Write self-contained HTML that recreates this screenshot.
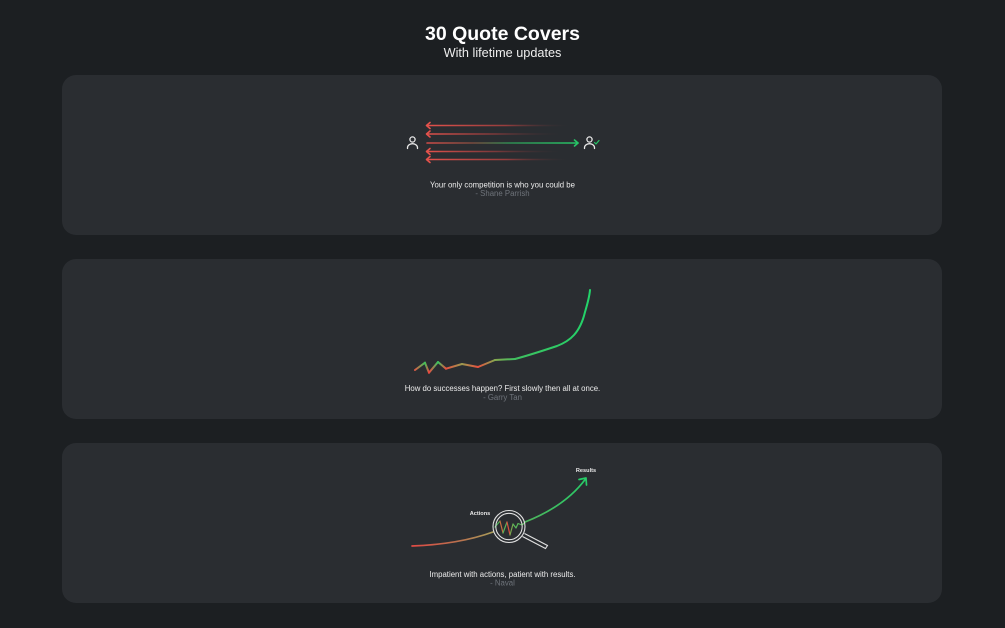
<!DOCTYPE html>
<html>
<head>
<meta charset="utf-8">
<style>
  html,body{margin:0;padding:0;background:#1c1f22;}
  body{width:1005px;height:628px;overflow:hidden;}
  svg{display:block;}
  text{font-family:"Liberation Sans", Arial, sans-serif;}
</style>
</head>
<body>
<svg width="1005" height="628" viewBox="0 0 1005 628" xmlns="http://www.w3.org/2000/svg">
  <defs>
    <linearGradient id="fadeRed" gradientUnits="userSpaceOnUse" x1="426" y1="0" x2="572" y2="0">
      <stop offset="0" stop-color="#e5524c"/>
      <stop offset="0.55" stop-color="#a8403f" stop-opacity="0.85"/>
      <stop offset="1" stop-color="#2a2d31" stop-opacity="0"/>
    </linearGradient>
    <linearGradient id="fadeRed2" gradientUnits="userSpaceOnUse" x1="426" y1="0" x2="565" y2="0">
      <stop offset="0" stop-color="#e5524c"/>
      <stop offset="0.5" stop-color="#963d3d" stop-opacity="0.75"/>
      <stop offset="1" stop-color="#2a2d31" stop-opacity="0"/>
    </linearGradient>
    <linearGradient id="redGreen" gradientUnits="userSpaceOnUse" x1="427" y1="0" x2="578" y2="0">
      <stop offset="0" stop-color="#d24c48"/>
      <stop offset="0.3" stop-color="#7a4a3e"/>
      <stop offset="0.55" stop-color="#2f8c52"/>
      <stop offset="1" stop-color="#27c567"/>
    </linearGradient>
    <linearGradient id="curveL" gradientUnits="userSpaceOnUse" x1="412" y1="0" x2="495" y2="0">
      <stop offset="0" stop-color="#e04b45"/>
      <stop offset="0.6" stop-color="#b8744f"/>
      <stop offset="1" stop-color="#a8a05a"/>
    </linearGradient>
    <linearGradient id="curveR" gradientUnits="userSpaceOnUse" x1="525" y1="0" x2="588" y2="0">
      <stop offset="0" stop-color="#4fb45c"/>
      <stop offset="1" stop-color="#27cc68"/>
    </linearGradient>
    <linearGradient id="s0" gradientUnits="userSpaceOnUse" x1="415" y1="0" x2="425" y2="0"><stop offset="0" stop-color="#e05a45"/><stop offset="1" stop-color="#3ec45a"/></linearGradient>
    <linearGradient id="s1" gradientUnits="userSpaceOnUse" x1="425" y1="0" x2="429" y2="0"><stop offset="0" stop-color="#3ec45a"/><stop offset="1" stop-color="#ee4540"/></linearGradient>
    <linearGradient id="s2" gradientUnits="userSpaceOnUse" x1="429" y1="0" x2="438" y2="0"><stop offset="0" stop-color="#ee4540"/><stop offset="1" stop-color="#38c860"/></linearGradient>
    <linearGradient id="s3" gradientUnits="userSpaceOnUse" x1="438" y1="0" x2="446" y2="0"><stop offset="0" stop-color="#38c860"/><stop offset="1" stop-color="#e8503f"/></linearGradient>
    <linearGradient id="s4" gradientUnits="userSpaceOnUse" x1="446" y1="0" x2="462" y2="0"><stop offset="0" stop-color="#e8503f"/><stop offset="1" stop-color="#9a9a4f"/></linearGradient>
    <linearGradient id="s5" gradientUnits="userSpaceOnUse" x1="462" y1="0" x2="478" y2="0"><stop offset="0" stop-color="#9a9a4f"/><stop offset="1" stop-color="#e8503f"/></linearGradient>
    <linearGradient id="s6" gradientUnits="userSpaceOnUse" x1="478" y1="0" x2="495" y2="0"><stop offset="0" stop-color="#e8503f"/><stop offset="1" stop-color="#86a84f"/></linearGradient>
    <linearGradient id="s7" gradientUnits="userSpaceOnUse" x1="495" y1="0" x2="515" y2="0"><stop offset="0" stop-color="#86a84f"/><stop offset="1" stop-color="#3fc060"/></linearGradient>
    <linearGradient id="s8" gradientUnits="userSpaceOnUse" x1="515" y1="0" x2="590" y2="0"><stop offset="0" stop-color="#3fc060"/><stop offset="1" stop-color="#22d46a"/></linearGradient>
  </defs>

  <rect x="0" y="0" width="1005" height="628" fill="#1c1f22"/>

  <text x="502.5" y="40" text-anchor="middle" font-size="19.5" font-weight="bold" fill="#ffffff">30 Quote Covers</text>
  <text x="502.5" y="57" text-anchor="middle" font-size="12.7" fill="#eeeeee">With lifetime updates</text>

  <rect x="62" y="75" width="880" height="160" rx="14" fill="#2a2d31"/>
  <rect x="62" y="259" width="880" height="160" rx="14" fill="#2a2d31"/>
  <rect x="62" y="443" width="880" height="160" rx="14" fill="#2a2d31"/>

  <!-- Card 1 -->
  <g fill="none" stroke="#e8e8e8" stroke-width="1.3" stroke-linecap="round">
    <circle cx="412.5" cy="139.5" r="2.6"/>
    <path d="M407.5,148.5 v-0.8 a5,4 0 0 1 10,0 v0.8"/>
  </g>
  <g fill="none" stroke-width="1.6" stroke-linecap="round" stroke-linejoin="round">
    <path d="M427,125.5 H572" stroke="url(#fadeRed)"/>
    <path d="M430,122.5 L426.5,125.5 L430,128.5" stroke="#e5524c"/>
    <path d="M427,134 H565" stroke="url(#fadeRed2)"/>
    <path d="M430,131 L426.5,134 L430,137" stroke="#e5524c"/>
    <path d="M427,151.5 H565" stroke="url(#fadeRed2)"/>
    <path d="M430,148.5 L426.5,151.5 L430,154.5" stroke="#e5524c"/>
    <path d="M427,159.5 H572" stroke="url(#fadeRed)"/>
    <path d="M430,156.5 L426.5,159.5 L430,162.5" stroke="#e5524c"/>
    <path d="M427,143 H578" stroke="url(#redGreen)"/>
    <path d="M574.5,140 L578,143 L574.5,146" stroke="#27c567"/>
  </g>
  <g fill="none" stroke="#e8e8e8" stroke-width="1.3" stroke-linecap="round">
    <circle cx="589.5" cy="139.5" r="2.6"/>
    <path d="M584.5,148.5 v-0.8 a5,4 0 0 1 10,0 v0.8"/>
  </g>
  <path d="M594.5,142.5 L596,144 L599,140.5" fill="none" stroke="#27c567" stroke-width="1.2" stroke-linecap="round" stroke-linejoin="round"/>

  <text x="502.5" y="187.5" text-anchor="middle" font-size="7.8" fill="#ececec">Your only competition is who you could be</text>
  <text x="502.5" y="196" text-anchor="middle" font-size="7.8" fill="#6f747b">- Shane Parrish</text>

  <!-- Card 2 -->
  <g fill="none" stroke-width="2" stroke-linecap="round" stroke-linejoin="round">
    <path d="M415,370 L425,362.7" stroke="url(#s0)"/>
    <path d="M425,362.7 L429,372.7" stroke="url(#s1)"/>
    <path d="M429,372.7 L438,362" stroke="url(#s2)"/>
    <path d="M438,362 L446,368.7" stroke="url(#s3)"/>
    <path d="M446,368.7 L462,364" stroke="url(#s4)"/>
    <path d="M462,364 L478,367" stroke="url(#s5)"/>
    <path d="M478,367 L495,360" stroke="url(#s6)"/>
    <path d="M495,360 L515,359" stroke="url(#s7)"/>
    <path d="M515,359 C530,355 545,350 557,346 C570,341 580,333 585,312 C588,302 589.5,296 590,290" stroke="url(#s8)"/>
  </g>
  <text x="502.5" y="391" text-anchor="middle" font-size="7.8" fill="#ececec">How do successes happen? First slowly then all at once.</text>
  <text x="502.5" y="400" text-anchor="middle" font-size="7.8" fill="#6f747b">- Garry Tan</text>

  <!-- Card 3 -->
  <g fill="none" stroke-width="1.7" stroke-linecap="round" stroke-linejoin="round">
    <path d="M412,546 C440,545 468,541 493,532" stroke="url(#curveL)"/>
    <path d="M525,522 C548,513 570,500 585.5,479" stroke="url(#curveR)"/>
    <path d="M579,479.5 L586,478 L586.5,485" stroke="#27cc68"/>
  </g>
  <g fill="none" stroke-width="1.2" stroke-linecap="round" stroke-linejoin="round">
    <path d="M495,527 L500,521" stroke="#4cb85a"/>
    <path d="M500,521 L503,533" stroke="#c8703f"/>
    <path d="M503,533 L507,522" stroke="#5ab35a"/>
    <path d="M507,522 L510,535" stroke="#d9503f"/>
    <path d="M510,535 L513,524" stroke="#7aa84f"/>
    <path d="M513,524 L516,528 L518,523.5 L522,525 L525,522.5" stroke="#5ab85a"/>
  </g>
  <g fill="none" stroke="#e0e0e0" stroke-width="1.1">
    <circle cx="509" cy="526.5" r="16"/>
    <circle cx="509" cy="526.5" r="13.2"/>
    <path d="M522.5,536.5 L545.5,548.5 L547.5,545.5 L524.5,533.5"/>
  </g>
  <text x="480" y="515" text-anchor="middle" font-size="5.6" font-weight="bold" fill="#e8e8e8">Actions</text>
  <text x="586" y="472" text-anchor="middle" font-size="5.6" font-weight="bold" fill="#e8e8e8">Results</text>

  <text x="502.5" y="577" text-anchor="middle" font-size="7.8" fill="#ececec">Impatient with actions, patient with results.</text>
  <text x="502.5" y="585.5" text-anchor="middle" font-size="7.8" fill="#6f747b">- Naval</text>
</svg>
</body>
</html>
